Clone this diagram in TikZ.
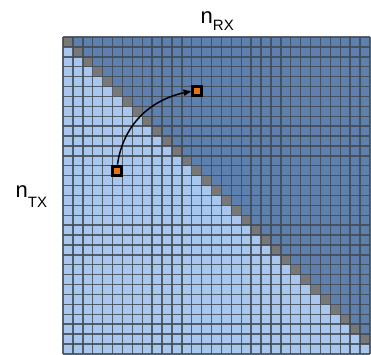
\documentclass[tikz,border=0pt]{standalone}
\usepackage{fontspec}
\setmainfont{Liberation Sans}
\usepackage{xcolor}
\usepackage{tikz}
\usetikzlibrary{arrows}
\definecolor{lightcell}{HTML}{A8C7EF}
\definecolor{darkcell}{HTML}{5D80AF}
\definecolor{diagcell}{HTML}{787878}
\definecolor{gridline}{HTML}{434A53}
\definecolor{markfill}{HTML}{E8740F}
\tikzstyle{marker}=[draw=black,fill=markfill,shape=rectangle,minimum size=9pt,inner sep=0pt,line width=3pt]
\tikzstyle{axislabel}=[inner sep=0pt,anchor=base west,font=\fontsize{22}{22}\selectfont]
\newcommand{\cs}{9.9}

\begin{document}
\begin{tikzpicture}[x=1pt,y=-1pt]
\useasboundingbox (0,0) rectangle (371,354);
% cells
\fill[lightcell] (63,37) rectangle (369.9,353.8);
\foreach \r in {0,...,29}
  \fill[darkcell] (63+\r*\cs+\cs,37+\r*\cs) rectangle (369.9,37+\r*\cs+\cs);
\foreach \r in {0,...,30}
  \fill[diagcell] (63+\r*\cs,37+\r*\cs) rectangle ++(\cs,\cs);
% grid
\foreach \i in {0,...,31}
  \draw[gridline,line width=1.4pt,opacity=0.85] (63+\i*\cs,37) -- (63+\i*\cs,353.8);
\foreach \j in {0,...,32}
  \draw[gridline,line width=1.4pt,opacity=0.85] (63,37+\j*\cs) -- (369.9,37+\j*\cs);
% markers
\node[marker] (m1) at (63+5.5*\cs,37+13.5*\cs) {};
\node[marker] (m2) at (63+13.5*\cs,37+5.5*\cs) {};
\draw[line width=1.5pt,->,>=stealth'] (m1.north) to[out=82,in=190] (m2.west);
% labels
\node[axislabel] (nrx) at (200.5,23) {n\raisebox{-7pt}{\fontsize{15}{15}\selectfont RX}};
\node[axislabel] (ntx) at (15.5,197) {n\raisebox{-10pt}{\fontsize{15}{15}\selectfont TX}};
\end{tikzpicture}
\end{document}
